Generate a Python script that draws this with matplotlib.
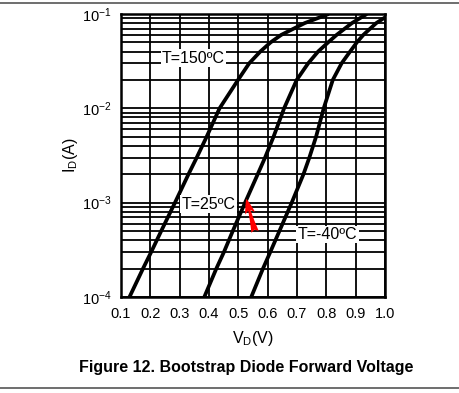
import matplotlib
matplotlib.use("Agg")
import matplotlib.pyplot as plt
from matplotlib.ticker import LogLocator, FixedFormatter, FixedLocator

plt.rcParams['font.family'] = ['Liberation Sans', 'DejaVu Sans']
plt.rcParams['mathtext.fontset'] = 'custom'
plt.rcParams['mathtext.rm'] = 'Liberation Sans'
plt.rcParams['mathtext.it'] = 'Liberation Sans'

# forward current points read at each grid line (A)
current = [1e-4, 2e-4, 3e-4, 5e-4, 1e-3, 2e-3, 3e-3, 5e-3,
           1e-2, 2e-2, 3e-2, 4e-2, 5e-2, 6e-2, 8e-2, 1e-1]

# forward voltage (V) for each temperature
v_150 = [0.129, 0.175, 0.203, 0.237, 0.284, 0.330, 0.358, 0.392,
         0.436, 0.499, 0.537, 0.575, 0.610, 0.646, 0.726, 0.808]
v_25 = [0.384, 0.425, 0.451, 0.481, 0.523, 0.566, 0.591, 0.620,
        0.656, 0.699, 0.738, 0.772, 0.806, 0.835, 0.887, 0.938]
current_m40 = [1e-4, 2e-4, 3e-4, 5e-4, 1e-3, 2e-3, 3e-3, 5e-3,
               1e-2, 2e-2, 3e-2, 4e-2, 5e-2, 6e-2, 8e-2, 0.092]
v_m40 = [0.544, 0.584, 0.609, 0.640, 0.682, 0.722, 0.742, 0.765,
         0.791, 0.822, 0.852, 0.881, 0.904, 0.926, 0.970, 1.0]

x_ticks = [0.1, 0.2, 0.3, 0.4, 0.5, 0.6, 0.7, 0.8, 0.9, 1.0]
x_labels = ["0.1", "0.2", "0.3", "0.4", "0.5", "0.6", "0.7", "0.8", "0.9", "1.0"]
y_ticks = [1e-4, 1e-3, 1e-2, 1e-1]
y_labels = ["$10^{-4}$", "$10^{-3}$", "$10^{-2}$", "$10^{-1}$"]

fig = plt.figure(figsize=(4.59, 3.93), dpi=100)
ax = fig.add_axes([0.2636, 0.2443, 0.5752, 0.7201])

ax.set_yscale('log')
ax.set_xlim(0.1, 1.0)
ax.set_ylim(1e-4, 1e-1)

ax.xaxis.set_major_locator(FixedLocator(x_ticks))
ax.xaxis.set_major_formatter(FixedFormatter(x_labels))
ax.yaxis.set_major_locator(FixedLocator(y_ticks))
ax.yaxis.set_major_formatter(FixedFormatter(y_labels))
ax.yaxis.set_minor_locator(LogLocator(base=10, subs=range(2, 10)))
ax.yaxis.set_minor_formatter(FixedFormatter([]))

ax.grid(which='major', color='black', lw=1.3)
ax.grid(which='minor', axis='y', color='black', lw=1.3)
ax.set_axisbelow(True)
ax.tick_params(which='both', length=0, labelsize=10.5, pad=7)

for s in ax.spines.values():
    s.set_linewidth(1.8)

ax.plot(v_150, current, color='black', lw=2.7, solid_capstyle='butt')
ax.plot(v_25, current, color='black', lw=2.7, solid_capstyle='butt')
ax.plot(v_m40, current_m40, color='black', lw=2.7, solid_capstyle='butt')

box = dict(facecolor='white', edgecolor='none', pad=1.0)
ax.text(0.24, 0.034, "T=150ºC", fontsize=11.5, va='center', ha='left', bbox=box)
ax.text(0.305, 9.6e-4, "T=25ºC", fontsize=11.5, va='center', ha='left', bbox=box)
ax.text(0.703, 4.6e-4, "T=-40ºC", fontsize=11.5, va='center', ha='left', bbox=box)

# red marker arrow
ax.annotate("", xy=(0.527, 1.1e-3), xytext=(0.557, 4.9e-4),
            arrowprops=dict(arrowstyle='fancy,head_length=0.6,head_width=0.4,tail_width=0.3',
                            color='red', lw=0, mutation_scale=18,
                            shrinkA=0, shrinkB=0))

ax.set_xlabel("V$_{\\mathrm{D}}$(V)", fontsize=11.5, labelpad=6)
ax.set_ylabel("I$_{\\mathrm{D}}$(A)", fontsize=11.5, labelpad=1)

fig.text(0.537, 0.066, "Figure 12. Bootstrap Diode Forward Voltage",
         fontsize=11.5, fontweight='bold', ha='center', va='center')

fig.add_artist(plt.Line2D([0, 1], [1 - 3 / 393, 1 - 3 / 393], color='#555555', lw=1.2))
fig.add_artist(plt.Line2D([0, 1], [1 - 388 / 393, 1 - 388 / 393], color='#555555', lw=1.2))

fig.savefig("out.png", dpi=100)
